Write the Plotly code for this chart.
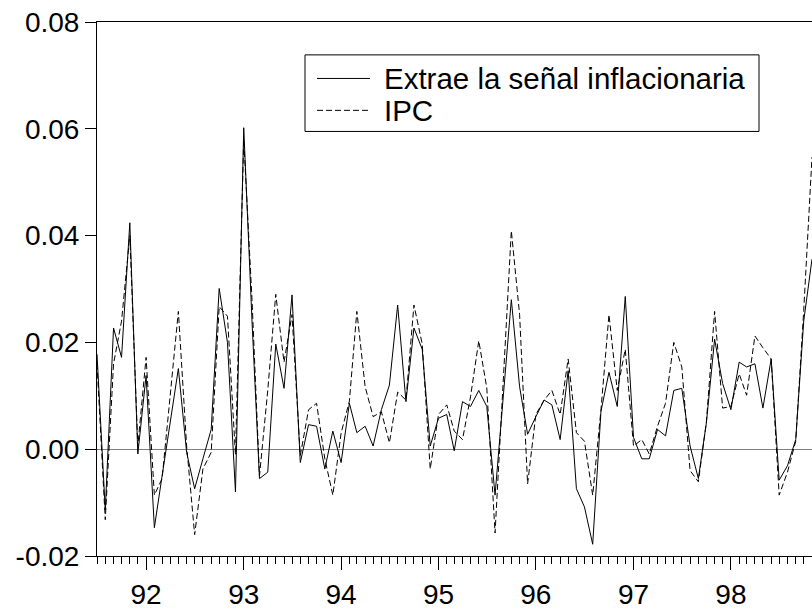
import pandas as pd
import plotly.graph_objects as go

# Monthly observations 1991:07 - 1998:11
months = pd.date_range("1991-07-01", periods=89, freq="MS").strftime("%Y-%m-%d").tolist()

signal = [
    0.0178, -0.0114, 0.0227, 0.0172, 0.0424, -0.0009, 0.0138, -0.0147, -0.0050, 0.0050,
    0.0151, -0.0006, -0.0074, -0.0018, 0.0037, 0.0301, 0.0200, -0.0080, 0.0602, 0.0240,
    -0.0055, -0.0043, 0.0197, 0.0114, 0.0289, -0.0025, 0.0046, 0.0043, -0.0037, 0.0034,
    -0.0025, 0.0086, 0.0031, 0.0043, 0.0006, 0.0074, 0.0120, 0.0270, 0.0089, 0.0227,
    0.0187, 0.0006, 0.0058, 0.0065, -0.0003, 0.0089, 0.0080, 0.0110, 0.0080, -0.0086,
    0.0097, 0.0280, 0.0117, 0.0028, 0.0061, 0.0092, 0.0083, 0.0018, 0.0147, -0.0074,
    -0.0108, -0.0178, 0.0071, 0.0144, 0.0080, 0.0286, 0.0022, -0.0018, -0.0018, 0.0037,
    0.0025, 0.0110, 0.0114, 0.0006, -0.0055, 0.0049, 0.0206, 0.0123, 0.0074, 0.0163,
    0.0154, 0.0160, 0.0077, 0.0169, -0.0058, -0.0031, 0.0018, 0.0240, 0.0356,
]

ipc = [
    0.0160, -0.0132, 0.0160, 0.0240, 0.0400, 0.0006, 0.0172, -0.0086, -0.0055, 0.0098,
    0.0258, 0.0006, -0.0160, -0.0037, -0.0006, 0.0267, 0.0249, -0.0010, 0.0580, 0.0280,
    -0.0050, 0.0110, 0.0290, 0.0163, 0.0252, -0.0012, 0.0074, 0.0086, -0.0018, -0.0086,
    0.0030, 0.0090, 0.0258, 0.0117, 0.0061, 0.0070, 0.0012, 0.0107, 0.0092, 0.0270,
    0.0197, -0.0037, 0.0065, 0.0083, 0.0034, 0.0018, 0.0098, 0.0203, 0.0115, -0.0157,
    0.0126, 0.0409, 0.0252, -0.0065, 0.0065, 0.0092, 0.0110, 0.0065, 0.0169, 0.0031,
    0.0015, -0.0086, 0.0074, 0.0252, 0.0110, 0.0187, 0.0006, 0.0018, -0.0009, 0.0043,
    0.0086, 0.0200, 0.0154, -0.0040, -0.0061, 0.0050, 0.0258, 0.0077, 0.0080, 0.0141,
    0.0101, 0.0212, 0.0190, 0.0169, -0.0086, -0.0043, 0.0015, 0.0260, 0.0547,
]

series_names = ["Extrae la señal inflacionaria", "IPC"]
y_tick_vals = [-0.02, 0.00, 0.02, 0.04, 0.06, 0.08]
y_tick_labels = ["-0.02", "0.00", "0.02", "0.04", "0.06", "0.08"]

W, H = 812, 610
ML, MR, MT, MB = 97, 0, 22, 44
FONT = "Liberation Sans, Arial, Helvetica, sans-serif"
FS = 28
LEG_FS = 29.5
DASH = "6px,3px"

fig = go.Figure()
fig.add_trace(go.Scatter(x=months, y=signal, mode="lines", name=series_names[0],
                         line=dict(color="black", width=1), showlegend=False))
fig.add_trace(go.Scatter(x=months, y=ipc, mode="lines", name=series_names[1],
                         line=dict(color="black", width=1, dash=DASH), showlegend=False))

pw = W - ML - MR
ph = H - MT - MB
def px_x(p):
    return (p - ML) / pw
def px_y(p):
    return (H - MB - p) / ph

# legend box drawn manually (EViews style)
fig.add_shape(type="rect", xref="paper", yref="paper",
              x0=px_x(305), x1=px_x(759), y0=px_y(133.5), y1=px_y(55.5),
              line=dict(color="black", width=1), fillcolor="white", layer="above")
rows = [79.5, 112]
dashes = ["solid", DASH]
for name, ry, dsh in zip(series_names, rows, dashes):
    fig.add_shape(type="line", xref="paper", yref="paper",
                  x0=px_x(317), x1=px_x(370), y0=px_y(ry), y1=px_y(ry),
                  line=dict(color="black", width=1, dash=dsh), layer="above")
    fig.add_annotation(xref="paper", yref="paper", x=px_x(382), y=px_y(ry),
                       text=name, showarrow=False, xanchor="left", yanchor="middle",
                       font=dict(family=FONT, size=LEG_FS, color="black"))

fig.update_layout(
    width=W, height=H,
    margin=dict(l=ML, r=MR, t=MT, b=MB, pad=0),
    paper_bgcolor="white", plot_bgcolor="white",
    font=dict(family=FONT, size=FS, color="black"),
    showlegend=False,
    xaxis=dict(
        range=["1991-07-01", "1998-11-01"],
        showgrid=False, zeroline=False,
        showline=True, linecolor="black", linewidth=1, mirror=True,
        ticks="outside", ticklen=13, tickcolor="black", tickwidth=1,
        tick0="1992-01-01", dtick="M12", tickformat="%y",
        minor=dict(ticks="outside", ticklen=7, tickcolor="black", tickwidth=1,
                   tick0="1991-07-01", dtick="M1", showgrid=False),
        tickfont=dict(family=FONT, size=FS, color="black"),
    ),
    yaxis=dict(
        range=[-0.02, 0.08],
        showgrid=False,
        zeroline=True, zerolinecolor="#808080", zerolinewidth=1,
        showline=True, linecolor="black", linewidth=1, mirror=False,
        ticks="outside", ticklen=11, tickcolor="black", tickwidth=1,
        tickvals=y_tick_vals, ticktext=y_tick_labels,
        tickfont=dict(family=FONT, size=FS, color="black"),
    ),
)

fig.write_html("out.html")
